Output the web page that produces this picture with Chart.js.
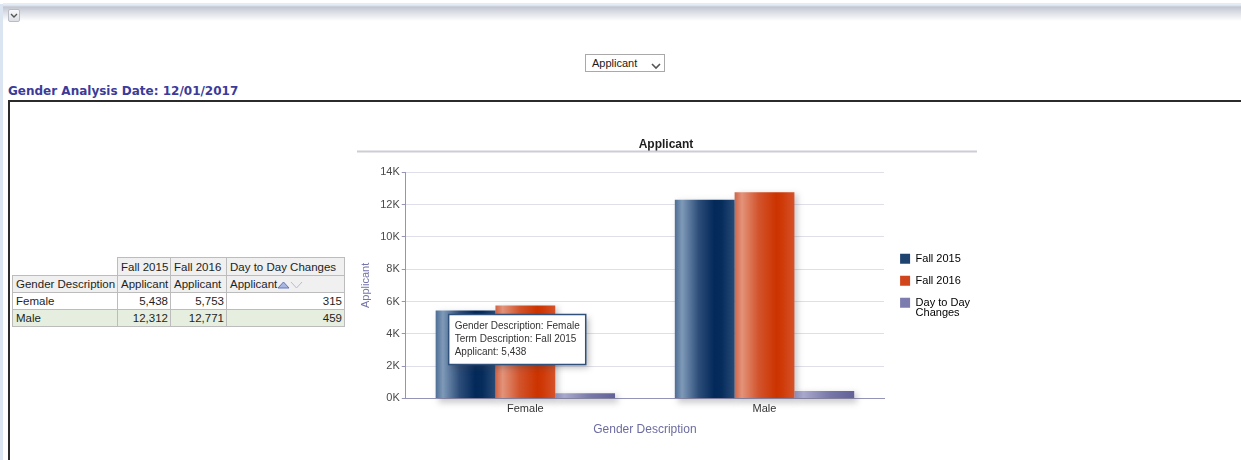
<!DOCTYPE html>
<html>
<head>
<meta charset="utf-8">
<title>Gender Analysis</title>
<script src="https://cdn.jsdelivr.net/npm/chart.js@4.4.1/dist/chart.umd.min.js"></script>
<style>
  html, body { margin: 0; padding: 0; background: #fff; }
  body { width: 1241px; height: 460px; position: relative; overflow: hidden; font-family: "Liberation Sans", Arial, sans-serif; }
  .edge { position: absolute; left: 0; top: 4px; width: 3px; height: 456px; background: #dbe5f1; }
  .topbar { position: absolute; left: 3px; top: 3px; width: 1238px; height: 18px;
    background: linear-gradient(#e4ecf5 0, #e4ecf5 2px, #c2c6d2 4px, #d9dce4 9px, #fbfbfc 17px, #fff 18px); }
  .collapse { position: absolute; left: 8px; top: 9px; width: 10px; height: 11px; border: 1px solid #b8bcc6; border-radius: 2px;
    background: linear-gradient(#fafafa, #dcdfe6); }
  .collapse svg { position: absolute; left: 1px; top: 2px; }
  .picker { position: absolute; left: 585px; top: 54px; width: 78px; height: 16px; border: 1px solid #a9a9a9; background: #fff;
    font: 11px "Liberation Sans", Arial, sans-serif; color: #1a1a1a; box-sizing: content-box; }
  .picker span { position: absolute; left: 6px; top: 2px; }
  .picker svg { position: absolute; left: 65px; top: 8px; }
  .caption { position: absolute; left: 8px; top: 84px; font: bold 12px "DejaVu Sans", Verdana, sans-serif; color: #3b3b99; }
  .frame { position: absolute; left: 8px; top: 100px; width: 1260px; height: 400px; border: 2px solid #2b2b2b; }
  table.pivot { position: absolute; left: 12px; top: 257px; border-collapse: collapse; table-layout: fixed; width: 332px;
    font: 11.5px "Liberation Sans", Arial, sans-serif; color: #1e1e1e; }
  table.pivot td, table.pivot th { border: 1px solid #bcbcbc; padding: 0 2px 0 3px; height: 16px; white-space: nowrap; overflow: hidden;
    font-weight: normal; text-align: left; }
  table.pivot th { background: #f0f0f0; }
  table.pivot tr.h1 th { height: 17px; }
  table.pivot td.blank { border: none; background: #fff; }
  table.pivot td.num { text-align: right; }
  table.pivot tr.alt td { background: #e5eedf; }
  table.pivot th svg { vertical-align: -1px; margin-left: 0; }
  #chartBox { position: absolute; left: 357px; top: 132px; width: 622px; height: 310px; }
</style>
</head>
<body>
<div class="edge"></div>
<div class="topbar"></div>
<div class="collapse"><svg width="8" height="7" viewBox="0 0 8 7"><path d="M1 2 L4 5 L7 2" fill="none" stroke="#555" stroke-width="1.4"/></svg></div>
<div class="picker"><span>Applicant</span><svg width="10" height="7" viewBox="0 0 10 7"><path d="M1 1 L5 5 L9 1" fill="none" stroke="#555" stroke-width="1.6"/></svg></div>
<div class="caption">Gender Analysis Date: 12/01/2017</div>
<div class="frame"></div>

<table class="pivot" id="pivot">
  <colgroup><col style="width:105px"><col style="width:53px"><col style="width:56px"><col style="width:118px"></colgroup>
  <tr class="h1"><td class="blank"></td><th>Fall 2015</th><th>Fall 2016</th><th>Day to Day Changes</th></tr>
  <tr><th>Gender Description</th><th>Applicant</th><th>Applicant</th>
    <th>Applicant<svg width="26" height="9" viewBox="0 0 26 9"><path d="M1 8 L6.5 2 L12 8 Z" fill="#a9b6e2" stroke="#6676bb" stroke-width="1"/><path d="M14 2 L19.5 8 L25 2" fill="none" stroke="#b4bcd6" stroke-width="1"/></svg></th></tr>
</table>

<div id="chartBox"><canvas id="applicantChart"></canvas></div>

<script>
// applicant counts by gender and term
const genders = ['Female', 'Male'];
const seriesNames = ['Fall 2015', 'Fall 2016', 'Day to Day Changes'];
const fall2015 = [5438, 12312];
const fall2016 = [5753, 12771];
const dayToDay = [315, 459];
const yMax = 14000;
const yStep = 2000;

const CAT_PCT = 0.75;

// fill the pivot table from the same numbers
const pivot = document.getElementById('pivot');
genders.forEach((g, i) => {
  const row = pivot.insertRow();
  if (i % 2 === 1) row.className = 'alt';
  row.insertCell(0).textContent = g;
  [fall2015[i], fall2016[i], dayToDay[i]].forEach((v, j) => {
    const c = row.insertCell(j + 1);
    c.className = 'num';
    c.textContent = v.toLocaleString('en-US');
  });
});

// glossy vertical-stripe shading for each series
const shades = [
  { solid: '#1f436f', stops: [[0, '#4d6d93'], [0.12, '#7f9ab9'], [0.4, '#2d4d79'], [0.66, '#03295a'], [0.78, '#062c5c'], [1, '#284b77']] },
  { solid: '#d0451b', stops: [[0, '#cf6446'], [0.12, '#e3937a'], [0.4, '#d2542c'], [0.7, '#cc3300'], [0.8, '#cf3a08'], [1, '#d5532a']] },
  { solid: '#7c7cae', stops: [[0, '#8a8ab6'], [0.15, '#a8a8cc'], [0.6, '#7676a8'], [1, '#62629a']] }
];

function barFill(shade) {
  return (ctx) => {
    const chart = ctx.chart;
    const x = chart.scales.x;
    if (!x || ctx.type !== 'data' || !chart.chartArea) return shade.solid;
    const step = x.getPixelForValue(1) - x.getPixelForValue(0);
    const group = step * CAT_PCT;
    const w = group / chart.data.datasets.length;
    const left = x.getPixelForValue(ctx.dataIndex) - group / 2 + ctx.datasetIndex * w;
    const g = chart.ctx.createLinearGradient(left, 0, left + w, 0);
    shade.stops.forEach(([o, c]) => g.addColorStop(o, c));
    return g;
  };
}

// soft drop shadow behind every bar
const barShadow = {
  id: 'barShadow',
  beforeDatasetsDraw(chart) {
    const c = chart.ctx;
    c.save();
    c.filter = 'blur(3px)';
    c.fillStyle = 'rgba(70,70,80,0.28)';
    chart.data.datasets.forEach((ds, i) => {
      chart.getDatasetMeta(i).data.forEach((bar) => {
        c.fillRect(bar.x - bar.width / 2 + 3, bar.y + 2, bar.width, bar.base - bar.y + 3);
      });
    });
    c.restore();
  }
};

// grey rule under the chart title
const titleRule = {
  id: 'titleRule',
  afterDraw(chart) {
    const c = chart.ctx;
    const y = chart.titleBlock.top + 19.5;
    c.save();
    c.strokeStyle = '#cdcdd5';
    c.lineWidth = 2;
    c.beginPath();
    c.moveTo(0, y);
    c.lineTo(chart.width - 2, y);
    c.stroke();
    c.restore();
  }
};

// shadow behind the tooltip box
const tipShadow = {
  id: 'tipShadow',
  beforeTooltipDraw(chart, args) {
    const t = args.tooltip;
    const c = chart.ctx;
    c.save();
    c.filter = 'blur(3px)';
    c.fillStyle = 'rgba(60,60,70,0.35)';
    c.fillRect(t.x + 3, t.y + 3, t.width, t.height);
    c.restore();
  }
};

// give the legend a little more room from the plot
const legendGap = {
  id: 'legendGap',
  afterLayout(chart) {
    chart.legend.left += 5;
    chart.legend.right += 5;
  }
};

Chart.Tooltip.positioners.onBar = function (items) {
  if (!items.length) return false;
  const el = items[0].element;
  return { x: el.x - el.width / 2 + 13, y: el.y + 4 };
};

Chart.defaults.font.family = '"Liberation Sans", Arial, sans-serif';

const chart = new Chart(document.getElementById('applicantChart'), {
  type: 'bar',
  data: {
    labels: genders,
    datasets: [fall2015, fall2016, dayToDay].map((values, i) => ({
      label: seriesNames[i],
      data: values,
      backgroundColor: barFill(shades[i]),
      borderWidth: 0,
      categoryPercentage: CAT_PCT,
      barPercentage: 1
    }))
  },
  options: {
    responsive: true,
    maintainAspectRatio: false,
    animation: false,
    events: [],
    layout: { padding: { left: 0, right: 4, top: 0, bottom: 0 } },
    scales: {
      x: {
        grid: { display: false, drawTicks: false },
        border: { color: '#9494b6', width: 1 },
        ticks: { color: '#333', font: { size: 11 }, padding: 4 },
        title: { display: true, text: 'Gender Description', color: '#6c6ca2', font: { size: 12 }, padding: { top: 3, bottom: 5 } }
      },
      y: {
        min: 0,
        max: yMax,
        ticks: { stepSize: yStep, color: '#4a4a4a', font: { size: 11 }, padding: 2, callback: (v) => (v / 1000) + 'K' },
        grid: { color: '#dfdfe9', tickColor: '#9494b6', tickLength: 4 },
        border: { color: '#9494b6', width: 1 },
        title: { display: true, text: 'Applicant', color: '#7474a8', font: { size: 11 }, padding: { top: 2, bottom: 6 } }
      }
    },
    plugins: {
      title: { display: true, text: 'Applicant', color: '#1e1e1e', font: { size: 12, weight: 'bold' }, padding: { top: 5, bottom: 21 } },
      legend: {
        position: 'right',
        align: 'center',
        fullSize: false,
        labels: {
          boxWidth: 10,
          boxHeight: 10,
          padding: 11,
          color: '#333',
          font: { size: 11, lineHeight: 0.92 },
          generateLabels: (ch) => ch.data.datasets.map((ds, i) => {
            const cut = ds.label.length > 12 ? ds.label.lastIndexOf(' ') : -1;
            return {
              text: cut > 0 ? [ds.label.slice(0, cut), ds.label.slice(cut + 1)] : ds.label,
              fillStyle: shades[i].solid,
              strokeStyle: shades[i].solid,
              lineWidth: 0,
              datasetIndex: i
            };
          })
        }
      },
      tooltip: {
        position: 'onBar',
        xAlign: 'left',
        yAlign: 'top',
        caretSize: 0,
        caretPadding: 0,
        cornerRadius: 0,
        backgroundColor: '#ffffff',
        borderColor: '#30517c',
        borderWidth: 1.5,
        bodyColor: '#333',
        bodyFont: { size: 10 },
        bodySpacing: 1,
        padding: 6,
        displayColors: false,
        callbacks: {
          title: () => [],
          label: (item) => [
            'Gender Description: ' + item.label,
            'Term Description: ' + item.dataset.label,
            'Applicant: ' + item.formattedValue
          ]
        }
      }
    }
  },
  plugins: [barShadow, titleRule, tipShadow, legendGap]
});

// show the hover card for the first Female bar
chart.tooltip.setActiveElements([{ datasetIndex: 0, index: 0 }], { x: 0, y: 0 });
chart.update('none');
</script>
</body>
</html>
